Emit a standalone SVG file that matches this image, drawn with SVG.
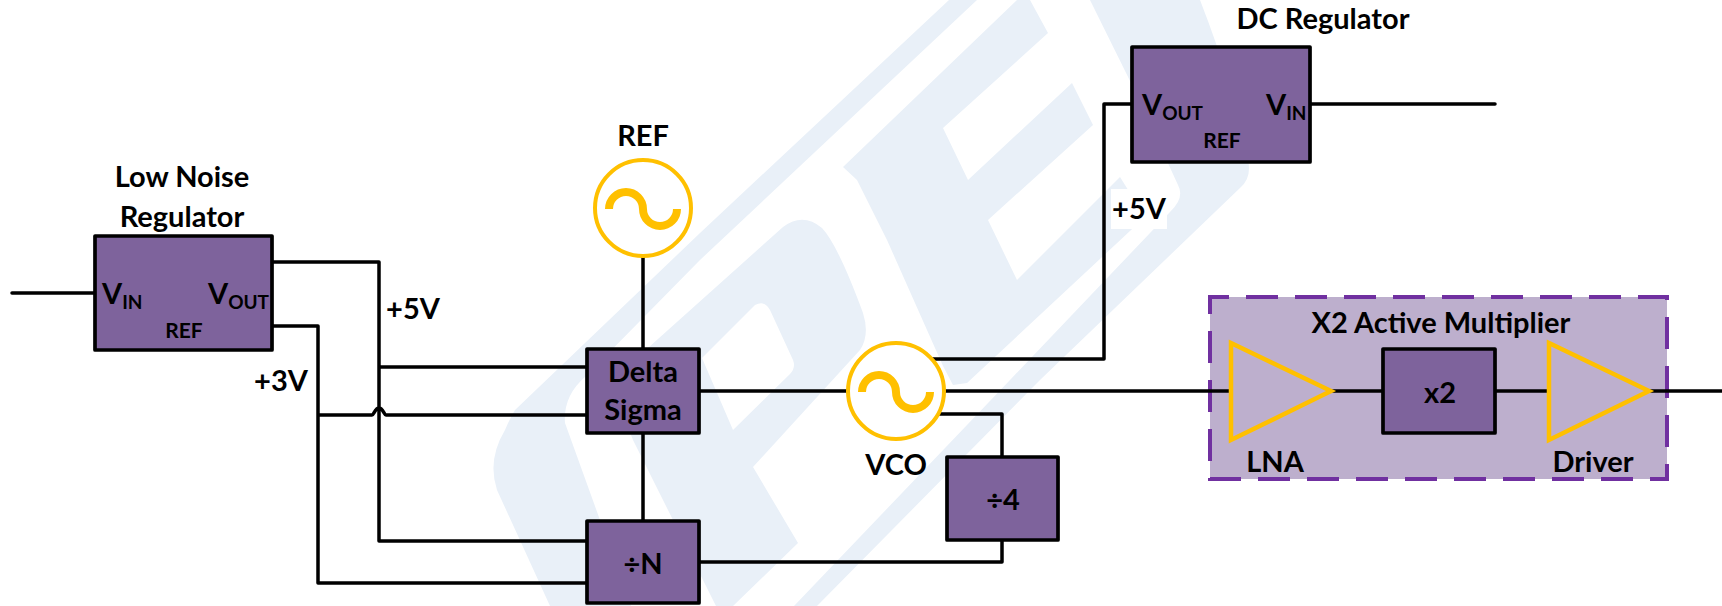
<svg xmlns="http://www.w3.org/2000/svg" width="1722" height="606" viewBox="0 0 1722 606">
<style>
.wm{fill:#E9F0F8;stroke:none;fill-rule:evenodd}
.box{fill:#7E639C;stroke:#000;stroke-width:3.7;stroke-linejoin:round}
.w{fill:none;stroke:#000;stroke-width:3.5;stroke-linejoin:round;stroke-linecap:round}
.osc{fill:#fff;stroke:#FFC000;stroke-width:4}
.sine{fill:none;stroke:#FFC000;stroke-width:8}
.amp{fill:none;stroke:#FFC000;stroke-width:4.5;stroke-linejoin:miter}
.group{fill:#BDAFCD;stroke:#7030A0;stroke-width:4;stroke-dasharray:32 17;stroke-dashoffset:13}
text{font-family:"Lato","Liberation Sans",sans-serif;font-weight:700;font-size:29px;fill:#000;text-anchor:middle}
.st{text-anchor:start}
.sub{font-size:19px}
.ref{font-size:21px}
</style>
<g id="watermark">
<path class="wm" d="M949 0L977 0L700 260L585 377Q563 396 565 423L631 606L550 606L497 490Q487 460 505 430Q510 418 515 410L700 233Z"/>
<path class="wm" d="M610 382L783 227Q803 212 822 228Q838 245 863 313Q870 335 860 350L753 467L798 543L733 606L716 606L633 440ZM702 358L755 305Q765 300 770 310L793 360Q796 368 790 374L733 430Z"/>
<path class="wm" d="M843 167L1017 0L1030 0L1048 33L943 128L968 180L1072 83L1093 125L988 220L1017 280L1120 177L1145 217L967 383L953 385L943 366L887 240L857 180Z"/>
<path class="wm" d="M1090 0L1200 0Q1235 90 1248 160Q1252 178 1240 188L1040 380L817 606L794 606L1010 380L1170 212Q1185 198 1178 185L1133 87Z"/>
<rect x="1111" y="189" width="56" height="40" fill="#fff"/>
</g>
<g id="multiplier"><rect class="group" x="1210" y="297" width="457" height="182"/>
<text x="1441" y="333">X2 Active Multiplier</text></g>
<g id="connectors">
<path class="w" d="M12 293H95M272 262H379V541H587M379 367H587M272 326H318V583H587M318 415H372C374 415 375 408 379 408C383 408 384 415 386 415H587"/>
<path class="w" d="M643 257V349M643 433V521M699 391H850M940 391H1231M1331 391H1383M1495 391H1549M1649 391H1722M920 359H1104V104H1132M1310 104H1495M920 414H1002V457M1002 540V562H699"/>
</g>
<g id="low-noise-regulator"><rect class="box" x="95" y="236" width="177" height="114"/>
<text class="st" x="102" y="304">V<tspan class="sub" dy="5">IN</tspan></text>
<text class="st" x="208" y="304">V<tspan class="sub" dy="5">OUT</tspan></text>
<text class="ref" x="184" y="338">REF</text>
<text x="182" y="187">Low Noise</text><text x="182" y="227">Regulator</text></g>
<g id="label-5v-left"><text x="413" y="319">+5V</text></g>
<g id="label-3v"><text x="281" y="391">+3V</text></g>
<g id="ref-oscillator"><circle class="osc" cx="643" cy="208" r="48"/><path class="sine" d="M609 209a17 17 0 0 1 34 0a17 17 0 0 0 34 0"/>
<text x="643" y="146">REF</text></g>
<g id="delta-sigma"><rect class="box" x="587" y="349" width="112" height="84"/>
<text x="643" y="382">Delta</text><text x="643" y="420">Sigma</text></g>
<g id="div-n"><rect class="box" x="587" y="521" width="112" height="82"/><text x="643" y="574">÷N</text></g>
<g id="vco"><circle class="osc" cx="896" cy="391" r="48"/><path class="sine" d="M862 392a17 17 0 0 1 34 0a17 17 0 0 0 34 0"/>
<text x="896" y="475">VCO</text></g>
<g id="div-4"><rect class="box" x="947" y="457" width="111" height="83"/><text x="1003" y="510">÷4</text></g>
<g id="dc-regulator"><rect class="box" x="1132" y="47" width="178" height="115"/>
<text class="st" x="1142" y="115">V<tspan class="sub" dy="5">OUT</tspan></text>
<text class="st" x="1266" y="115">V<tspan class="sub" dy="5">IN</tspan></text>
<text class="ref" x="1222" y="148">REF</text>
<text x="1323" y="29">DC Regulator</text></g>
<g id="label-5v-right"><text x="1139" y="219">+5V</text></g>
<g id="lna"><path class="amp" d="M1231 343L1331 391L1231 440Z"/><text x="1275" y="472">LNA</text></g>
<g id="x2"><rect class="box" x="1383" y="349" width="112" height="84"/><text x="1440" y="403">x2</text></g>
<g id="driver"><path class="amp" d="M1549 343L1649 391L1549 440Z"/><text x="1593" y="472">Driver</text></g>
</svg>
